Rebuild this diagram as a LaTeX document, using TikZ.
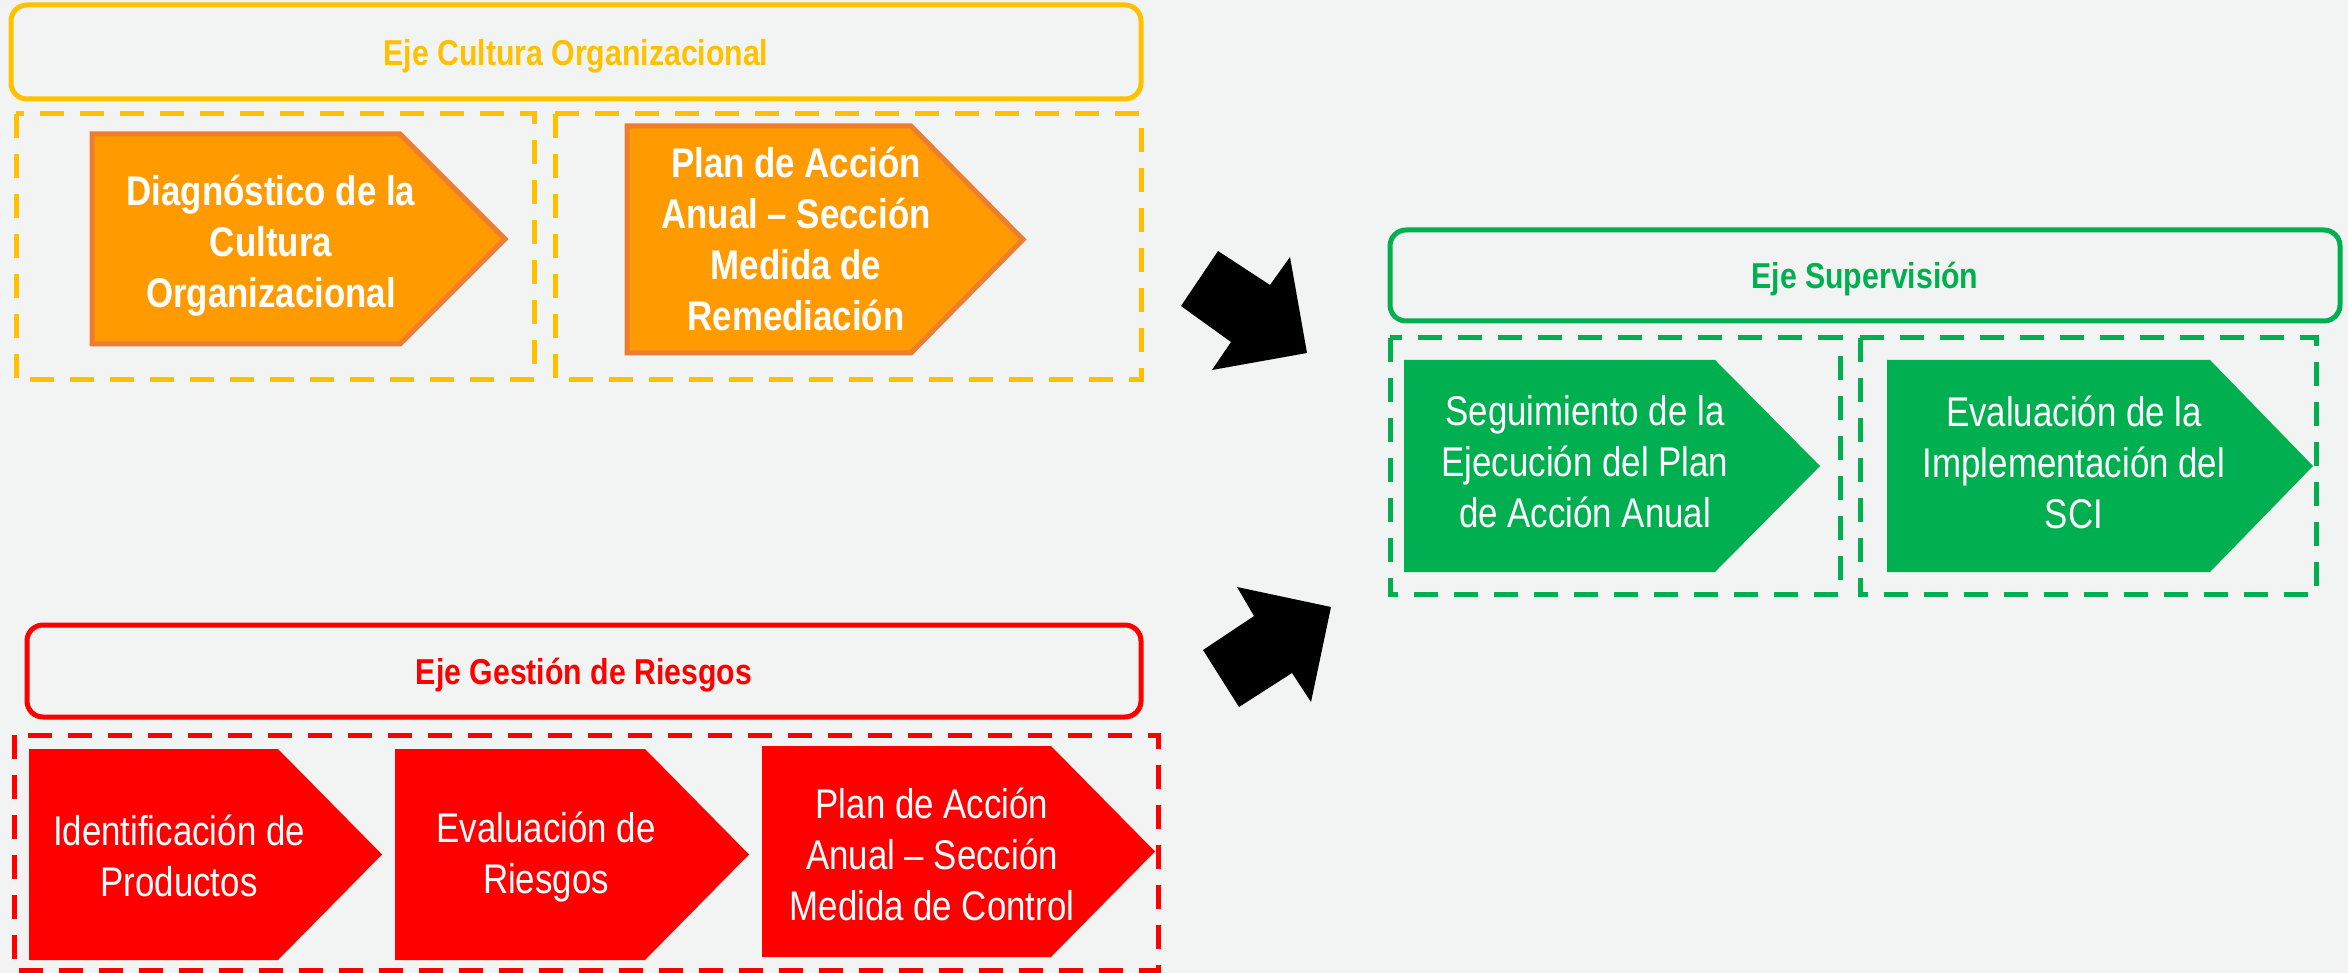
\documentclass[tikz,border=0pt]{standalone}
\usepackage{fontspec}
\setmainfont{Liberation Sans}[FakeStretch=0.84]
\definecolor{fondo}{HTML}{F2F4F3}
\definecolor{amarillo}{HTML}{FFC000}
\definecolor{naranja}{HTML}{FF9A00}
\definecolor{bordenar}{HTML}{ED7D31}
\definecolor{verde}{HTML}{00B050}
\definecolor{rojo}{HTML}{FF0000}
% chevron: style, left, shoulder, tip, top, bottom
\newcommand{\chevpath}[6]{%
  \path[#1] (#2,#5) -- (#3,#5) -- (#4,{(#5+#6)/2}) -- (#3,#6) -- (#2,#6) -- cycle;}

\begin{document}
\begin{tikzpicture}[x=1pt,y=-1pt,
    titulo/.style={line width=5pt,rounded corners=16pt,inner sep=0pt,text depth=0pt,
        font=\bfseries\fontsize{36}{43}\selectfont},
    caja/.style={line width=5pt,dash pattern=on 24pt off 16pt},
    texto/.style={text=white,align=center,inner sep=0pt,
        font=\fontsize{41.5}{51}\selectfont},
    %texto en negrita solo para el eje de cultura
    negrita/.style={texto,font=\bfseries\fontsize{41.5}{51}\selectfont}
]
    \fill[fondo] (0,0) rectangle (2348,973);
    \useasboundingbox (0,0) rectangle (2348,973);

    % Eje Cultura Organizacional
    \node[titulo,draw=amarillo,text=amarillo,minimum width=1130pt,minimum height=94pt]
        (cultura) at (576,52) {Eje Cultura Organizacional};
    \draw[caja,amarillo] (16,114) rectangle (534,380);
    \draw[caja,amarillo] (555,114) rectangle (1141,380);
    \chevpath{fill=naranja,draw=bordenar,line width=5pt}{92}{400}{505}{134}{344}
    \chevpath{fill=naranja,draw=bordenar,line width=5pt}{627}{911}{1023}{126}{353}
    \node[negrita] (diag) at (271,246) {Diagnóstico de la\\Cultura\\Organizacional};
    \node[negrita] (planrem) at (796,239) {Plan de Acción\\Anual – Sección\\Medida de\\Remediación};

    % Eje Supervision
    \node[titulo,draw=verde,text=verde,minimum width=950pt,minimum height=91pt]
        (supervision) at (1865,275.5) {Eje Supervisión};
    \draw[caja,verde] (1390,338) rectangle (1840,594);
    \draw[caja,verde] (1860,338) rectangle (2316,594);
    \chevpath{fill=verde}{1404}{1715}{1820}{360}{572}
    \chevpath{fill=verde}{1887}{2210}{2313}{360}{572}
    \node[texto] (seguim) at (1585,462) {Seguimiento de la\\Ejecución del Plan\\de Acción Anual};
    \node[texto] (evalsci) at (2074,462) {Evaluación de la\\Implementación del\\SCI};

    % Eje Gestion de Riesgos
    \node[titulo,draw=rojo,text=rojo,minimum width=1114pt,minimum height=92pt]
        (riesgos) at (584,671) {Eje Gestión de Riesgos};
    \draw[caja,rojo] (14,735) rectangle (1158,970);
    \chevpath{fill=rojo}{29}{278}{382}{749}{960}
    \chevpath{fill=rojo}{395}{645}{749}{749}{960}
    \chevpath{fill=rojo}{762}{1051}{1155}{746}{957}
    \node[texto] (ident) at (179,856) {Identificación de\\Productos};
    \node[texto] (evalries) at (546,857) {Evaluación de\\Riesgos};
    \node[texto] (plancon) at (932,854) {Plan de Acción\\Anual – Sección\\Medida de Control};

    % flechas hacia supervision
    \fill[black] (1218,251) -- (1270,285) -- (1290,257) -- (1307,353)
        -- (1212,370) -- (1231,342) -- (1181,306) -- cycle;
    \fill[black] (1237,587) -- (1331,607) -- (1311,702) -- (1292,673)
        -- (1239,707) -- (1203,650) -- (1254,616) -- cycle;
\end{tikzpicture}
\end{document}
